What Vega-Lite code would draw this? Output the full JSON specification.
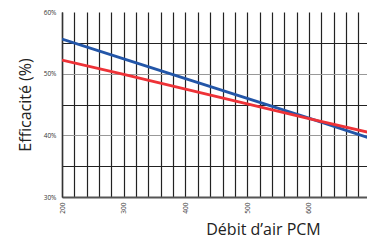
{
  "$schema": "https://vega.github.io/schema/vega-lite/v6.json",
  "autosize": {"type": "none"},
  "padding": {"left": 62, "top": 12, "right": 0, "bottom": 46},
  "width": 305,
  "height": 185,
  "background": "white",
  "config": {
    "view": {"stroke": null},
    "font": "Open Sans",
    "axis": {"labelFont": "Open Sans", "titleFont": "Open Sans"}
  },
  "data": {
    "values": [
      {"cfm": 200, "eff": 55.6, "serie": "A"},
      {"cfm": 300, "eff": 52.4, "serie": "A"},
      {"cfm": 400, "eff": 49.2, "serie": "A"},
      {"cfm": 500, "eff": 46.0, "serie": "A"},
      {"cfm": 600, "eff": 42.8, "serie": "A"},
      {"cfm": 700, "eff": 39.5, "serie": "A"},
      {"cfm": 200, "eff": 52.2, "serie": "B"},
      {"cfm": 300, "eff": 49.9, "serie": "B"},
      {"cfm": 400, "eff": 47.5, "serie": "B"},
      {"cfm": 500, "eff": 45.1, "serie": "B"},
      {"cfm": 600, "eff": 42.7, "serie": "B"},
      {"cfm": 700, "eff": 40.4, "serie": "B"}
    ]
  },
  "mark": {"type": "line", "strokeWidth": 2.8, "clip": true},
  "encoding": {
    "x": {
      "field": "cfm",
      "type": "quantitative",
      "scale": {"domain": [200, 694], "nice": false, "zero": false},
      "axis": {
        "title": "Débit d’air PCM",
        "titleFontSize": 16,
        "titleFontWeight": "normal",
        "titleColor": "#222",
        "titleX": 201,
        "titlePadding": 8,
        "values": [200, 220, 240, 260, 280, 300, 320, 340, 360, 380, 400, 420, 440, 460, 480, 500, 520, 540, 560, 580, 600, 620, 640, 660, 680],
        "labelExpr": "datum.value % 100 === 0 ? datum.label : ''",
        "labelAngle": 270,
        "labelFontSize": 6.5,
        "labelColor": "#333",
        "labelPadding": 5,
        "ticks": false,
        "grid": true,
        "gridColor": "#222",
        "gridWidth": 1.2,
        "gridOpacity": 1,
        "domainColor": "#555",
        "domainWidth": 2
      }
    },
    "y": {
      "field": "eff",
      "type": "quantitative",
      "scale": {"domain": [30, 60], "nice": false, "zero": false},
      "axis": {
        "title": "Efficacité (%)",
        "titleFontSize": 16,
        "titleFontWeight": "normal",
        "titleColor": "#222",
        "titlePadding": 10,
        "values": [30, 35, 40, 45, 50, 55, 60],
        "labelExpr": "datum.value % 10 === 0 ? datum.value + '%' : ''",
        "labelFontSize": 6.5,
        "labelColor": "#333",
        "labelPadding": 6,
        "ticks": false,
        "grid": true,
        "gridColor": {"condition": {"test": "datum.value % 10 === 0", "value": "#999"}, "value": "#222"},
        "gridWidth": 1.2,
        "gridOpacity": {"condition": {"test": "datum.value === 60 || datum.value === 30", "value": 0}, "value": 1},
        "domainColor": "#333",
        "domainWidth": 1.5
      }
    },
    "color": {
      "field": "serie",
      "type": "nominal",
      "scale": {"domain": ["A", "B"], "range": ["#2356a8", "#ee3237"]},
      "legend": null
    }
  }
}
